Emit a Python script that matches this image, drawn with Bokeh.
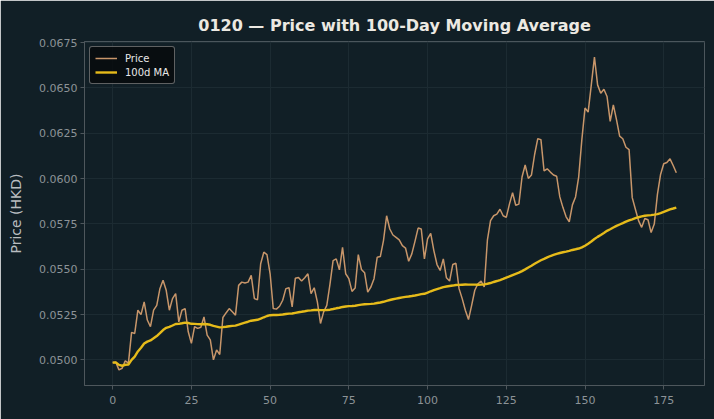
import pandas as pd
from bokeh.plotting import figure
from bokeh.models import ColumnDataSource, FixedTicker, PrintfTickFormatter, Range1d, Legend, LegendItem
from bokeh.embed import file_html
from bokeh.resources import INLINE

# Daily closing prices for 0120 (HKD), trading day index 0..179
price = [
    0.04985, 0.04987, 0.04945, 0.04954, 0.04995, 0.04982, 0.05152, 0.05146, 0.05274, 0.05250,
    0.05320, 0.05220, 0.05183, 0.05274, 0.05301, 0.05393, 0.05439, 0.05384, 0.05274, 0.05338,
    0.05366, 0.05210, 0.05274, 0.05283, 0.05155, 0.05091, 0.05183, 0.05174, 0.05180, 0.05237,
    0.05137, 0.05110, 0.05000, 0.05055, 0.05030, 0.05234, 0.05259, 0.05283, 0.05265, 0.05247,
    0.05411, 0.05429, 0.05424, 0.05429, 0.05466, 0.05338, 0.05332, 0.05530, 0.05594, 0.05581,
    0.05475, 0.05283, 0.05280, 0.05296, 0.05329, 0.05393, 0.05398, 0.05292, 0.05450, 0.05455,
    0.05435, 0.05453, 0.05475, 0.05366, 0.05398, 0.05320, 0.05201, 0.05265, 0.05301, 0.05417,
    0.05548, 0.05557, 0.05497, 0.05621, 0.05475, 0.05448, 0.05378, 0.05396, 0.05581, 0.05499,
    0.05481, 0.05374, 0.05402, 0.05448, 0.05566, 0.05570, 0.05658, 0.05795, 0.05722, 0.05689,
    0.05676, 0.05662, 0.05630, 0.05617, 0.05544, 0.05585, 0.05654, 0.05727, 0.05722, 0.05557,
    0.05667, 0.05698, 0.05603, 0.05526, 0.05493, 0.05557, 0.05453, 0.05435, 0.05526, 0.05533,
    0.05393, 0.05338, 0.05274, 0.05223, 0.05301, 0.05384, 0.05420, 0.05435, 0.05402, 0.05660,
    0.05768, 0.05795, 0.05804, 0.05831, 0.05795, 0.05786, 0.05859, 0.05922, 0.05853, 0.05859,
    0.06009, 0.06075, 0.06001, 0.06020, 0.06133, 0.06220, 0.06215, 0.06042, 0.06054, 0.06036,
    0.06020, 0.06013, 0.05899, 0.05840, 0.05789, 0.05762, 0.05855, 0.05899, 0.06010, 0.06215,
    0.06389, 0.06367, 0.06517, 0.06670, 0.06517, 0.06471, 0.06493, 0.06453, 0.06316, 0.06407,
    0.06325, 0.06234, 0.06220, 0.06173, 0.06160, 0.05895, 0.05831, 0.05768, 0.05731, 0.05780,
    0.05773, 0.05703, 0.05749, 0.05913, 0.06023, 0.06082, 0.06089, 0.06109, 0.06072, 0.06032,
]
day = list(range(len(price)))

x_ticks = [0, 25, 50, 75, 100, 125, 150, 175]
y_ticks = [0.0500, 0.0525, 0.0550, 0.0575, 0.0600, 0.0625, 0.0650, 0.0675]

# 100-day moving average (partial windows at the start)
ma100 = pd.Series(price).rolling(100, min_periods=1).mean().tolist()

BG = "#111f26"
FONT = "DejaVu Sans"

src = ColumnDataSource(data=dict(day=day, price=price, ma=ma100))

n = len(price)
xpad = (n - 1) * 0.05
ypad = (max(price) - min(price)) * 0.05

p = figure(
    width=714, height=419,
    output_backend="svg", toolbar_location=None,
    x_range=Range1d(-xpad, n - 1 + xpad),
    y_range=Range1d(min(price) - ypad, max(0.06752, max(price) + ypad)),
    min_border_left=84, min_border_right=10, min_border_top=41, min_border_bottom=34,
    background_fill_color=BG, border_fill_color=BG, outline_line_color=None,
)

p.title.text = "0120 \u2014 Price with 100-Day Moving Average"
p.title.text_font = FONT
p.title.text_font_size = "16px"
p.title.text_font_style = "bold"
p.title.text_color = "#ece9e2"
p.title.align = "center"
p.title.standoff = 14

r_price = p.line("day", "price", source=src, line_color="#c8966a", line_width=1.5)
r_ma = p.line("day", "ma", source=src, line_color="#e6bb1a", line_width=2.4)

# axes
for ax in (p.xaxis[0], p.yaxis[0]):
    ax.axis_line_color = "#4e575c"
    ax.major_tick_line_color = "#4e575c"
    ax.minor_tick_line_color = None
    ax.major_tick_in = 0
    ax.major_tick_out = 4
    ax.major_label_text_font = FONT
    ax.major_label_text_font_size = "11px"
    ax.major_label_text_color = "#8c9397"

p.xaxis.ticker = FixedTicker(ticks=x_ticks)
p.yaxis.ticker = FixedTicker(ticks=y_ticks)
p.yaxis.formatter = PrintfTickFormatter(format="%.4f")
p.xaxis.major_label_standoff = 6
p.yaxis.major_label_standoff = 3

p.yaxis.axis_label = "Price (HKD)"
p.yaxis.axis_label_text_font = FONT
p.yaxis.axis_label_text_font_size = "14px"
p.yaxis.axis_label_text_font_style = "normal"
p.yaxis.axis_label_text_color = "#b9bdc0"
p.yaxis.axis_label_standoff = 12

p.xgrid.grid_line_color = "#1c2b32"
p.ygrid.grid_line_color = "#1c2b32"
p.xgrid.grid_line_width = 1
p.ygrid.grid_line_width = 1

legend = Legend(
    items=[LegendItem(label="Price", renderers=[r_price]),
           LegendItem(label="100d MA", renderers=[r_ma])],
    location="top_left",
    margin=5, padding=5, spacing=2,
    glyph_width=22, glyph_height=12, label_standoff=8,
    label_text_font=FONT, label_text_font_size="10px", label_text_color="#e8e8e8",
    background_fill_color="#070b0d", background_fill_alpha=0.85,
    border_line_color="#b5b5b5", border_line_width=1, border_radius=3,
)
p.add_layout(legend)

open("out.html", "w").write(file_html(p, INLINE))
